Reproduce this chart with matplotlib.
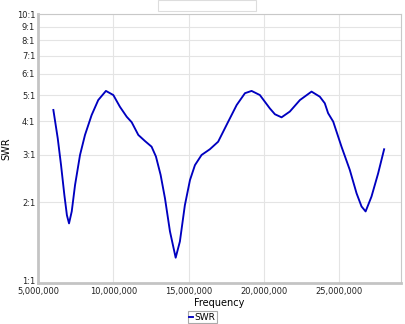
import matplotlib
matplotlib.use('Agg')
import matplotlib.pyplot as plt
import matplotlib.transforms as mtransforms
from matplotlib.ticker import FuncFormatter, FixedLocator, NullLocator
from matplotlib.patches import Rectangle

# frequency in MHz, SWR
freq_mhz = [6.02, 6.31, 6.53, 6.75, 6.92, 7.06, 7.24, 7.46, 7.79, 8.12, 8.56,
            9.00, 9.51, 10.00, 10.44, 10.89, 11.22, 11.66, 12.10, 12.54, 12.83,
            13.14, 13.43, 13.76, 14.14, 14.42, 14.75, 15.09, 15.42, 15.86, 16.41,
            16.96, 17.63, 18.19, 18.74, 19.18, 19.73, 20.39, 20.73, 21.17, 21.72,
            22.39, 23.16, 23.71, 24.04, 24.26, 24.60, 25.15, 25.70, 26.15, 26.48,
            26.75, 27.14, 27.58, 27.98]
swr = [4.41, 3.46, 2.75, 2.13, 1.79, 1.67, 1.85, 2.32, 3.00, 3.56, 4.22,
       4.80, 5.19, 5.01, 4.53, 4.16, 3.97, 3.56, 3.38, 3.22, 2.96,
       2.53, 2.07, 1.56, 1.245, 1.43, 1.95, 2.42, 2.75, 3.00, 3.15,
       3.36, 3.99, 4.60, 5.09, 5.19, 5.01, 4.47, 4.25, 4.14, 4.35,
       4.80, 5.16, 4.94, 4.67, 4.29, 3.99, 3.22, 2.64, 2.16, 1.93,
       1.85, 2.10, 2.56, 3.15]
x_ticks = [5e6, 10e6, 15e6, 20e6, 25e6]
y_ticks = list(range(1, 11))
y_tick_labels = [f'{v}:1' for v in y_ticks]

W, H = 405, 324
fig = plt.figure(figsize=(W / 100, H / 100), dpi=100)
ax = fig.add_axes([38 / W, (H - 283.3) / H, 363 / W, 269 / H])

ax.plot([f * 1e6 for f in freq_mhz], swr, color='#0000c0', lw=1.35,
        solid_joinstyle='round', label='SWR')

ax.set_yscale('log')
ax.set_ylim(1, 10)
ax.set_xlim(5e6, 29.1e6)
ax.yaxis.set_major_locator(FixedLocator(y_ticks))
ax.yaxis.set_minor_locator(NullLocator())
ax.set_yticklabels(y_tick_labels)
ax.set_xticks(x_ticks)
ax.xaxis.set_major_formatter(FuncFormatter(lambda v, p: f'{int(v):,}'))
ax.tick_params(length=0, labelsize=6, colors='#222222')
ax.tick_params(axis='y', pad=2)
ax.tick_params(axis='x', pad=3)
ax.grid(True, color='#e4e4e4', lw=0.8)
ax.set_axisbelow(True)

# lift the 1:1 label a little so it clears 5,000,000
lbl = ax.get_yticklabels()[0]
lbl.set_transform(lbl.get_transform() + mtransforms.ScaledTranslation(0, 2.5 / 100, fig.dpi_scale_trans))

for s in ['top', 'right']:
    ax.spines[s].set_color('#c8c8c8')
    ax.spines[s].set_linewidth(0.8)
for s in ['left', 'bottom']:
    ax.spines[s].set_color('#c4c4c4')
    ax.spines[s].set_linewidth(2.0)

ax.set_xlabel('Frequency', fontsize=7, labelpad=1)
ax.set_ylabel('SWR', fontsize=7, labelpad=4)

leg = fig.legend(loc='lower center', bbox_to_anchor=(202 / W, 0.0), fontsize=6.5,
                 handlelength=0.5, handletextpad=0.1, borderpad=0.15,
                 borderaxespad=0.1, fancybox=False, framealpha=1,
                 edgecolor='#aaaaaa')
leg.get_frame().set_linewidth(0.8)

# empty title box at the top
fig.patches.append(Rectangle((158 / W, (H - 11) / H), 98 / W, 11 / H,
                             transform=fig.transFigure, fill=False,
                             edgecolor='#dddddd', lw=0.8))

fig.savefig('out.png', dpi=100)
